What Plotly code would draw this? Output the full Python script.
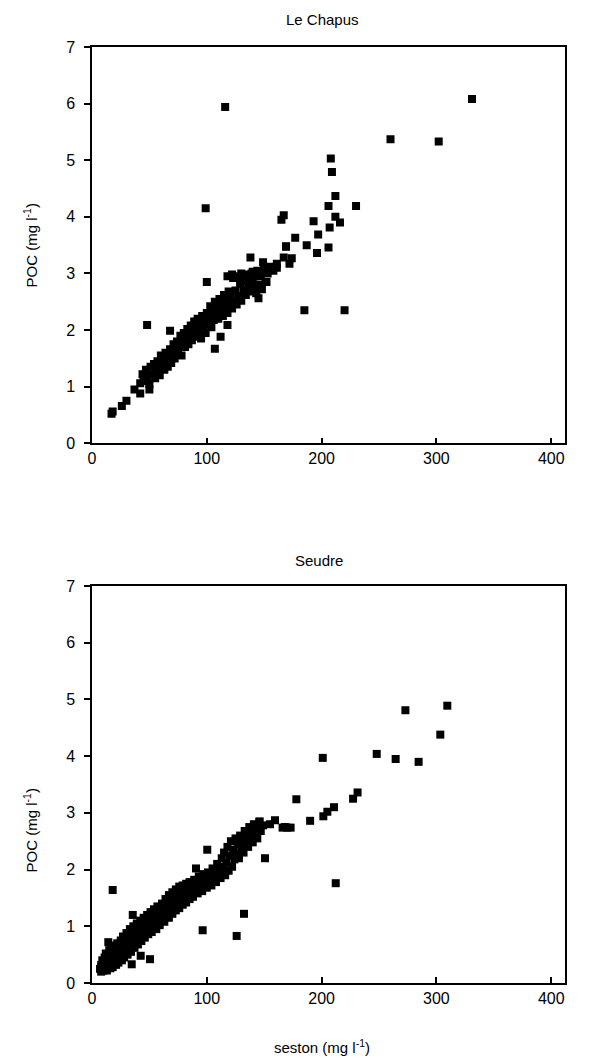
import plotly.graph_objects as go

# =========================
# Data
# =========================
# Le Chapus - isolated / readable points
chapus_out_seston = [17, 18, 26, 30, 37, 42, 42, 50, 48, 68,
                     100, 138, 107, 112, 118, 149, 152, 145, 169, 116,
                     99, 185, 220, 331, 260, 302, 208, 209, 212, 206,
                     230, 167, 165, 193, 212, 216, 207, 197, 177, 169,
                     187, 196, 206, 174, 167, 161, 151, 161, 172, 151,
                     140, 143]
chapus_out_poc = [0.52, 0.56, 0.66, 0.75, 0.95, 1.06, 0.88, 0.95, 2.09, 1.99,
                  2.85, 3.28, 1.67, 1.88, 2.09, 3.20, 2.85, 2.56, 3.48, 5.94,
                  4.15, 2.35, 2.35, 6.08, 5.37, 5.33, 5.03, 4.79, 4.37, 4.19,
                  4.19, 4.03, 3.95, 3.92, 4.00, 3.90, 3.81, 3.69, 3.63, 3.47,
                  3.50, 3.36, 3.46, 3.27, 3.28, 3.17, 3.02, 3.10, 3.17, 2.85,
                  3.03, 2.70]

# Le Chapus - dense band
chapus_band_seston = [44, 45, 47, 48, 50, 51, 52, 54, 55, 56,
                      57, 58, 59, 60, 61, 62, 63, 64, 65, 66,
                      67, 68, 69, 70, 71, 72, 73, 74, 75, 76,
                      77, 78, 79, 80, 81, 82, 83, 84, 85, 86,
                      87, 88, 89, 90, 91, 92, 93, 94, 95, 96,
                      97, 98, 99, 100, 101, 102, 103, 104, 105, 106,
                      107, 108, 109, 110, 111, 112, 113, 114, 115, 116,
                      117, 118, 119, 120, 121, 122, 123, 124, 125, 126,
                      127, 128, 129, 130, 131, 132, 133, 134, 135, 136,
                      137, 138, 139, 140, 141, 142, 143, 144, 146, 147,
                      148, 150, 153, 155, 158, 118, 122, 126, 130, 134]
chapus_band_poc = [1.22, 1.10, 1.30, 1.18, 1.05, 1.35, 1.22, 1.40, 1.15, 1.30,
                   1.45, 1.28, 1.20, 1.55, 1.38, 1.47, 1.30, 1.60, 1.45, 1.35,
                   1.52, 1.66, 1.42, 1.58, 1.75, 1.50, 1.65, 1.80, 1.60, 1.72,
                   1.90, 1.55, 1.78, 1.95, 1.70, 1.85, 2.02, 1.75, 1.92, 2.08,
                   1.82, 1.98, 2.15, 1.88, 2.05, 2.20, 1.95, 2.10, 1.85, 2.25,
                   2.02, 2.15, 1.95, 2.30, 2.10, 2.22, 2.42, 2.05, 2.35, 2.18,
                   2.50, 2.28, 2.40, 2.20, 2.55, 2.35, 2.46, 2.25, 2.62, 2.40,
                   2.52, 2.30, 2.68, 2.45, 2.58, 2.38, 2.92, 2.50, 2.70, 2.45,
                   2.95, 2.60, 2.82, 2.52, 2.96, 2.70, 2.88, 2.62, 2.98, 2.78,
                   2.92, 2.68, 3.00, 2.85, 2.75, 2.95, 2.65, 3.05, 2.80, 2.95,
                   2.72, 3.10, 3.00, 3.12, 3.05, 2.95, 2.98, 2.93, 3.00, 2.90]

# Seudre - isolated / readable points
seudre_out_seston = [309.5, 273, 303.4, 201, 248, 264.5, 284.5,
                     178, 231.3, 227.4, 210.8, 205,
                     201.5, 190, 159.4, 166, 170,
                     173, 145.7, 150.7, 212.3, 18,
                     35.5, 96.4, 132.4, 126, 34.6,
                     42.4, 50.5, 14.2, 100.4, 90.6,
                     168, 155]
seudre_out_poc = [4.89, 4.81, 4.38, 3.97, 4.04, 3.95, 3.90,
                  3.24, 3.36, 3.25, 3.10, 3.02,
                  2.94, 2.86, 2.87, 2.74, 2.74,
                  2.74, 2.84, 2.20, 1.76, 1.64,
                  1.20, 0.93, 1.22, 0.83, 0.33,
                  0.48, 0.42, 0.72, 2.35, 2.02,
                  2.75, 2.80]

# Seudre - dense band
seudre_band_seston = [7, 8, 8, 9, 9, 10, 10, 11, 11, 12,
                      12, 13, 13, 14, 14, 15, 15, 16, 16, 17,
                      17, 18, 18, 19, 19, 20, 20, 21, 21, 22,
                      22, 23, 23, 24, 24, 25, 25, 26, 26, 27,
                      27, 28, 28, 29, 29, 30, 30, 31, 32, 32,
                      33, 33, 34, 35, 35, 36, 36, 37, 38, 38,
                      39, 39, 40, 41, 41, 42, 42, 43, 44, 44,
                      45, 45, 46, 47, 47, 48, 48, 49, 50, 50,
                      51, 52, 52, 53, 54, 54, 55, 56, 56, 57,
                      58, 58, 59, 60, 61, 61, 62, 63, 63, 64,
                      65, 65, 66, 67, 67, 68, 69, 70, 70, 71,
                      72, 73, 73, 74, 75, 76, 76, 77, 78, 79,
                      79, 80, 81, 82, 82, 83, 84, 85, 85, 86,
                      87, 88, 89, 90, 91, 92, 93, 94, 95, 96,
                      97, 98, 99, 100, 101, 102, 103, 104, 105, 106,
                      107, 108, 109, 110, 111, 112, 113, 114, 115, 116,
                      117, 118, 119, 120, 121, 122, 123, 124, 125, 126,
                      127, 128, 129, 130, 131, 132, 133, 134, 135, 136,
                      137, 138, 139, 140, 141, 142, 143, 144, 146, 147,
                      149]
seudre_band_poc = [0.25, 0.32, 0.20, 0.40, 0.28, 0.22, 0.35, 0.45, 0.30, 0.25,
                   0.52, 0.38, 0.22, 0.48, 0.30, 0.58, 0.40, 0.26, 0.50, 0.35,
                   0.62, 0.45, 0.28, 0.55, 0.38, 0.66, 0.48, 0.32, 0.58, 0.42,
                   0.70, 0.52, 0.36, 0.62, 0.46, 0.75, 0.55, 0.40, 0.68, 0.50,
                   0.82, 0.60, 0.45, 0.72, 0.55, 0.88, 0.65, 0.50, 0.78, 0.60,
                   0.95, 0.70, 0.55, 0.85, 0.66, 1.00, 0.75, 0.62, 0.90, 0.72,
                   1.05, 0.80, 0.68, 0.98, 0.78, 1.10, 0.86, 0.74, 1.02, 0.84,
                   1.15, 0.92, 0.80, 1.08, 0.90, 1.20, 0.98, 0.86, 1.12, 0.95,
                   1.25, 1.02, 0.90, 1.18, 1.30, 1.00, 1.10, 0.95, 1.22, 1.35,
                   1.08, 1.20, 1.02, 1.28, 1.40, 1.12, 1.25, 1.08, 1.35, 1.48,
                   1.18, 1.30, 1.40, 1.15, 1.55, 1.28, 1.42, 1.22, 1.60, 1.35,
                   1.48, 1.28, 1.65, 1.40, 1.55, 1.32, 1.70, 1.45, 1.60, 1.38,
                   1.72, 1.52, 1.62, 1.42, 1.75, 1.55, 1.68, 1.48, 1.78, 1.60,
                   1.72, 1.52, 1.82, 1.65, 1.75, 1.58, 1.88, 1.70, 1.80, 1.62,
                   1.92, 1.75, 1.85, 1.68, 1.95, 1.80, 1.90, 1.72, 2.02, 1.85,
                   1.98, 1.78, 2.10, 1.92, 2.05, 1.85, 2.20, 2.00, 2.30, 1.90,
                   2.12, 2.40, 1.98, 2.25, 2.50, 2.05, 2.35, 2.18, 2.55, 2.28,
                   2.45, 2.20, 2.60, 2.38, 2.52, 2.30, 2.68, 2.45, 2.58, 2.40,
                   2.75, 2.55, 2.65, 2.48, 2.80, 2.60, 2.72, 2.55, 2.85, 2.68,
                   2.78]

x_ticks = [0, 100, 200, 300, 400]
y_ticks = [0, 1, 2, 3, 4, 5, 6, 7]

FONT = "Liberation Sans, Arial, sans-serif"
marker = dict(symbol="square", size=8, color="black", line=dict(width=0))

# =========================
# Figure
# =========================
fig = go.Figure()

fig.add_trace(go.Scatter(x=chapus_band_seston + chapus_out_seston,
                         y=chapus_band_poc + chapus_out_poc,
                         mode="markers", marker=marker, xaxis="x", yaxis="y"))
fig.add_trace(go.Scatter(x=seudre_band_seston + seudre_out_seston,
                         y=seudre_band_poc + seudre_out_poc,
                         mode="markers", marker=marker, xaxis="x2", yaxis="y2"))

xax = dict(range=[0, 412], tickvals=x_ticks, ticks="inside", ticklen=6,
           tickwidth=1.5, tickcolor="black", showline=True, linecolor="black",
           linewidth=1.5, mirror=True, showgrid=False, zeroline=False,
           tickfont=dict(family=FONT, size=16, color="black"))
yax = dict(range=[0, 7], tickvals=y_ticks, ticks="outside", ticklen=6,
           tickwidth=1.5, tickcolor="black", showline=True, linecolor="black",
           linewidth=1.5, mirror=True, showgrid=False, zeroline=False,
           ticklabelstandoff=6,
           tickfont=dict(family=FONT, size=16, color="black"))

# page body has an 8px margin, so the figure is a bit smaller than the window
fig.update_layout(
    width=584, height=1053,
    margin=dict(l=84, r=27, t=39, b=78),
    paper_bgcolor="white", plot_bgcolor="white",
    showlegend=False,
    xaxis=dict(xax, domain=[0, 1], anchor="y"),
    yaxis=dict(yax, domain=[0.5766, 1], anchor="x"),
    xaxis2=dict(xax, domain=[0, 1], anchor="y2"),
    yaxis2=dict(yax, domain=[0, 0.4241], anchor="x2"),
)

txt = dict(family=FONT, size=15, color="black")
annots = [
    dict(text="Le Chapus", x=0.487, y=1.029),
    dict(text="Seudre", x=0.48, y=0.451),
    dict(text="POC (mg l<sup>-1</sup>)", x=-0.131, y=0.788, textangle=-90),
    dict(text="POC (mg l<sup>-1</sup>)", x=-0.131, y=0.163, textangle=-90),
    dict(text="seston (mg l<sup>-1</sup>)", x=0.487, y=-0.068),
]
for a in annots:
    fig.add_annotation(xref="paper", yref="paper", showarrow=False,
                       xanchor="center", yanchor="middle", font=txt, **a)

fig.write_html("out.html")
